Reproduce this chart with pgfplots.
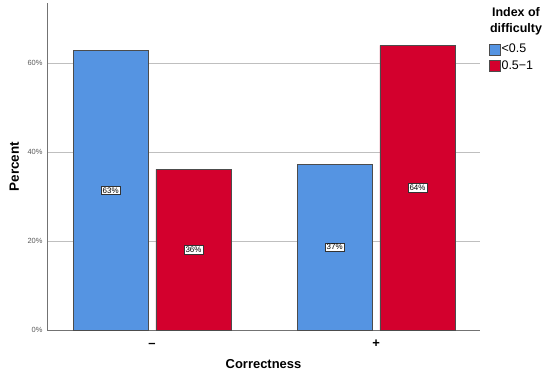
\documentclass[border=0pt]{standalone}
\usepackage{fontspec}
\setmainfont{Liberation Sans}
\usepackage{pgfplots}
\pgfplotsset{compat=1.18}
\definecolor{bblue}{RGB}{85,148,226}
\definecolor{bred}{RGB}{211,0,45}
\begin{document}
\begin{tikzpicture}
\useasboundingbox (-47bp,-45bp) rectangle (503bp,330bp);
\begin{axis}[
  at={(0,0)}, anchor=south west,
  scale only axis, width=433bp, height=327bp,
  xmin=-0.469, xmax=1.464, ymin=0, ymax=73.5,
  ybar, bar width=0.335,
  axis x line*=bottom, axis y line*=left,
  axis line style={-, draw=black!55, line width=0.6pt},
  xtick={0,1}, xticklabels={\textbf{–},\textbf{+}},
  x tick label style={font=\fontsize{13}{13}\selectfont, text height=9bp, text depth=2bp, yshift=-5bp},
  ytick={0,20,40,60}, yticklabels={0\%,20\%,40\%,60\%},
  y tick label style={font=\fontsize{7.5}{7.5}\selectfont, text=black!65, xshift=-1bp},
  major tick length=0pt,
  ymajorgrids, grid style={draw=black!25, line width=0.6pt},
  xlabel={\textbf{Correctness}}, ylabel={\textbf{Percent}},
  xlabel style={font=\fontsize{13}{13}\selectfont, at={(rel axis cs:0.5,0)}, anchor=base, yshift=-38bp},
  ylabel style={font=\fontsize{13.5}{13.5}\selectfont, at={(rel axis cs:0,0.5)}, anchor=base, yshift=28bp},
  legend style={at={(rel axis cs:1,1)}, anchor=north west, xshift=9bp, yshift=-40bp,
    draw=none, fill=none, font=\fontsize{12.5}{12.5}\selectfont, row sep=4bp,
    inner sep=0pt, nodes={inner sep=1pt, anchor=west}},
  legend cell align=left,
  legend image code/.code={\draw[#1, draw=black!70, line width=0.4pt] (0bp,-5.5bp) rectangle (11bp,5.5bp);},
  clip=false,
]
\addplot[fill=bblue, draw=black!70, line width=0.6pt, bar shift=-0.185] coordinates {(0,62.8) (1,37.2)};
\addlegendentry{<0.5}
\addplot[fill=bred, draw=black!70, line width=0.6pt, bar shift=0.185] coordinates {(0,36.1) (1,64.0)};
\addlegendentry{0.5−1}
\addplot[draw=none, mark=none, forget plot, bar shift=0, bar width=0,
  nodes near coords, point meta=explicit symbolic,
  every node near coord/.append style={anchor=center, fill=white, draw=black!80, line width=0.5pt,
    font=\fontsize{8}{8}\selectfont, inner sep=1.5bp}]
  coordinates {(-0.185,31.4) [63\%] (0.185,18.05) [36\%] (0.815,18.6) [37\%] (1.185,32.0) [64\%]};
\node[font=\bfseries\fontsize{12.5}{16}\selectfont, align=center, anchor=north] at ([xshift=36bp,yshift=-1bp]rel axis cs:1,1) {Index of\\difficulty};
\end{axis}
\end{tikzpicture}
\end{document}
